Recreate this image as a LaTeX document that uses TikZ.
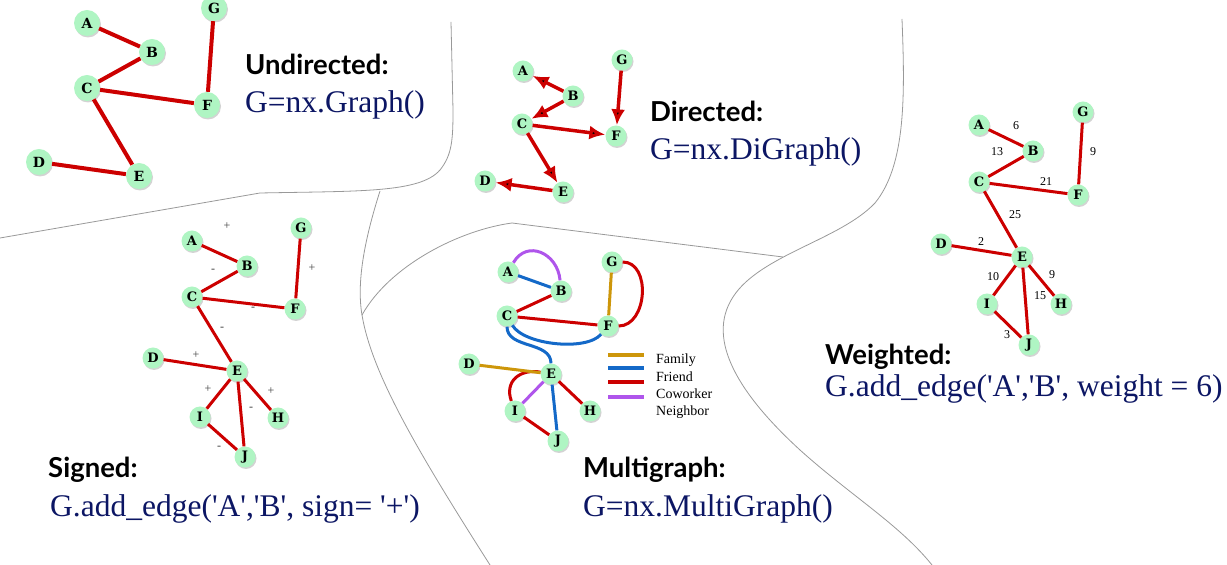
\documentclass[tikz,border=0pt]{standalone}
\usepackage{fontspec}
\setmainfont{Liberation Serif}
\newfontfamily\titlefont{Lato}
\newfontfamily\nodefont{DejaVu Serif}
\usepackage{tikz}
\usetikzlibrary{arrows.meta,shadows}

\definecolor{edgered}{RGB}{204,0,0}
\definecolor{friendblue}{RGB}{20,105,200}
\definecolor{familygold}{RGB}{205,150,10}
\definecolor{nbrpurple}{RGB}{175,85,235}
\definecolor{nodegreen}{RGB}{175,245,195}
\definecolor{codenavy}{RGB}{12,22,100}
\newcommand{\sq}{\textquotesingle}

\begin{document}
\begin{tikzpicture}[x=1pt,y=1pt,every node/.style={inner sep=0pt}]
        \tikzstyle{vertex}=[circle,fill=nodegreen,minimum size=21pt,font=\nodefont\bfseries\fontsize{13}{13}\selectfont,drop shadow={shadow xshift=1pt,shadow yshift=-1.5pt,opacity=.35}]
        \tikzstyle{big vertex}=[vertex,minimum size=26pt,font=\nodefont\bfseries\fontsize{14}{14}\selectfont]
        \tikzstyle{region}=[draw=black!40,line width=0.8pt]
        \tikzstyle{tlabel}=[anchor=base west,font=\titlefont\bfseries\fontsize{27.5}{27.5}\selectfont]
        \tikzstyle{codelabel}=[anchor=base west,text=codenavy,font=\fontsize{31.5}{31.5}\selectfont]
        \tikzstyle{signlabel}=[font=\fontsize{12}{12}\selectfont,text=black!75]
        \tikzstyle{wlabel}=[font=\fontsize{12}{12}\selectfont]
        \tikzstyle{keylabel}=[anchor=west,font=\fontsize{14}{14}\selectfont]
        \tikzstyle{redline}=[draw=edgered,line width=3pt]
        \tikzstyle{fam}=[draw=familygold,line width=3pt]
        \tikzstyle{frd}=[draw=friendblue,line width=3pt]
        \tikzstyle{cow}=[draw=edgered,line width=3pt]
        \tikzstyle{nbr}=[draw=nbrpurple,line width=3pt]
        \useasboundingbox (0,0) rectangle (1227,565);

        % region borders
        \draw[region] (0,327) -- (260,372) .. controls (360,374) and (420,372) .. (440,395) .. controls (452,410) and (453,425) .. (453,455) -- (451,543);
        \draw[region] (380,374) .. controls (366,330) and (356,285) .. (362,250) .. controls (372,190) and (420,110) .. (490,0);
        \draw[region] (362,250) .. controls (390,300) and (460,335) .. (512,342) -- (783,308);
        \draw[region] (902,546) .. controls (905,470) and (906,400) .. (875,362) .. controls (840,325) and (760,310) .. (733,268) .. controls (705,225) and (740,170) .. (800,115) .. controls (850,70) and (900,40) .. (932,0);

        % undirected
        \node[big vertex] (uA) at (87,542) {A};
        \node[big vertex] (uB) at (152,513) {B};
        \node[big vertex] (uC) at (87,477) {C};
        \node[big vertex] (uD) at (39,403) {D};
        \node[big vertex] (uE) at (139,389) {E};
        \node[big vertex] (uF) at (207,460) {F};
        \node[big vertex] (uG) at (214,557) {G};
        \path[redline,line width=4pt]
        (uA) edge (uB) (uB) edge (uC) (uC) edge (uF) (uG) edge (uF) (uC) edge (uE) (uD) edge (uE);
        \node[tlabel] (utitle) at (245,490) {Undirected:};
        \node[codelabel] (ucode) at (245,452) {G=nx.Graph()};

        % directed
        \node[vertex] (dA) at (523,494) {A};
        \node[vertex] (dB) at (573,469) {B};
        \node[vertex] (dC) at (522,441) {C};
        \node[vertex] (dD) at (485,384) {D};
        \node[vertex] (dE) at (563,373) {E};
        \node[vertex] (dF) at (616,429) {F};
        \node[vertex] (dG) at (622,505) {G};
        \path[redline,line width=3.5pt,-{Latex[length=16pt,width=14pt]}]
        (dB) edge (dA) (dB) edge (dC) (dG) edge (dF) (dC) edge (dF) (dC) edge (dE) (dE) edge (dD);
        \node[tlabel] (dtitle) at (650,443) {Directed:};
        \node[codelabel] (dcode) at (650,405) {G=nx.DiGraph()};

        % signed
        \node[vertex] (sA) at (192,324) {A};
        \node[vertex] (sB) at (247,299) {B};
        \node[vertex] (sC) at (192,268) {C};
        \node[vertex] (sD) at (153,207) {D};
        \node[vertex] (sE) at (237,194) {E};
        \node[vertex] (sF) at (295,256) {F};
        \node[vertex] (sG) at (301,337) {G};
        \node[vertex] (sH) at (278,147) {H};
        \node[vertex] (sI) at (200,148) {I};
        \node[vertex] (sJ) at (245,108) {J};
        \path[redline]
        (sA) edge node[signlabel,xshift=7.5pt,yshift=27.5pt] {+} (sB)
        (sB) edge node[signlabel,xshift=-6.5pt,yshift=10.5pt] {-} (sC)
        (sG) edge node[signlabel,xshift=14pt] {+} (sF)
        (sC) edge node[signlabel,xshift=9.5pt,yshift=-6pt] {-} (sF)
        (sC) edge node[signlabel,xshift=7.5pt,yshift=5pt] {-} (sE)
        (sD) edge node[signlabel,xshift=1pt,yshift=9.5pt] {+} (sE)
        (sE) edge node[signlabel,xshift=-10.5pt,yshift=5pt] {+} (sI)
        (sE) edge node[signlabel,xshift=13.5pt,yshift=3.5pt] {+} (sH)
        (sE) edge node[signlabel,xshift=10pt,yshift=5pt] {-} (sJ)
        (sI) edge node[signlabel,xshift=-3.5pt,yshift=-11pt] {-} (sJ);
        \node[tlabel] (stitle) at (48,87) {Signed:};
        \node[codelabel] (scode) at (50,48) {G.add\_edge(\sq A\sq,\sq B\sq, sign= \sq+\sq)};

        % multigraph
        \node[vertex] (mA) at (508,293) {A};
        \node[vertex] (mB) at (561,274) {B};
        \node[vertex] (mC) at (507,249) {C};
        \node[vertex] (mD) at (469,201) {D};
        \node[vertex] (mE) at (551,191) {E};
        \node[vertex] (mF) at (608,239) {F};
        \node[vertex] (mG) at (612,303) {G};
        \node[vertex] (mH) at (590,154) {H};
        \node[vertex] (mI) at (515,154) {I};
        \node[vertex] (mJ) at (558,124) {J};
        \path[nbr] (mA) edge[out=60,in=95,looseness=1.4] (mB) (mE) edge (mI);
        \path[frd] (mA) edge (mB) (mC) edge[out=-60,in=-130,looseness=.65] (mF)
        (mC) edge[out=-90,in=90] (mE) (mE) edge (mJ);
        \path[cow] (mB) edge (mC) (mC) edge (mF) (mG) edge[out=0,in=0,looseness=1.15] (mF)
        (mE) edge[out=170,in=110,looseness=1.3] (mI) (mE) edge (mH) (mI) edge (mJ);
        \path[fam] (mG) edge (mF) (mD) edge (mE);
        \draw[fam,line width=4pt] (608,210) -- (644,210);
        \draw[frd,line width=4pt] (608,197) -- (644,197);
        \draw[cow,line width=4pt] (608,183) -- (644,183);
        \draw[nbr,line width=4pt] (608,168) -- (644,168);
        \node[keylabel] (kfam) at (656,205) {Family};
        \node[keylabel] (kfrd) at (656,188) {Friend};
        \node[keylabel] (kcow) at (656,171) {Coworker};
        \node[keylabel] (knbr) at (656,153) {Neighbor};
        \node[tlabel] (mtitle) at (583,87) {Multigraph:};
        \node[codelabel] (mcode) at (583,48) {G=nx.MultiGraph()};

        % weighted
        \node[vertex] (wA) at (979,440) {A};
        \node[vertex] (wB) at (1033,414) {B};
        \node[vertex] (wC) at (979,383) {C};
        \node[vertex] (wD) at (941,321) {D};
        \node[vertex] (wE) at (1022,308) {E};
        \node[vertex] (wF) at (1078,370) {F};
        \node[vertex] (wG) at (1083,453) {G};
        \node[vertex] (wH) at (1061,261) {H};
        \node[vertex] (wI) at (987,261) {I};
        \node[vertex] (wJ) at (1029,220) {J};
        \path[redline]
        (wA) edge node[wlabel,xshift=10pt,yshift=12pt] {6} (wB)
        (wB) edge node[wlabel,xshift=-9pt,yshift=14.5pt] {13} (wC)
        (wG) edge node[wlabel,xshift=12.5pt,yshift=1.5pt] {9} (wF)
        (wC) edge node[wlabel,xshift=17.5pt,yshift=6.5pt] {21} (wF)
        (wC) edge node[wlabel,xshift=14.5pt,yshift=4.5pt] {25} (wE)
        (wD) edge node[wlabel,xshift=-0.5pt,yshift=8.5pt] {2} (wE)
        (wE) edge node[wlabel,xshift=-11.5pt,yshift=3.5pt] {10} (wI)
        (wE) edge node[wlabel,xshift=10.5pt,yshift=5.5pt] {9} (wH)
        (wE) edge node[wlabel,xshift=14.5pt,yshift=5pt] {15} (wJ)
        (wI) edge node[wlabel,xshift=-1pt,yshift=-10.5pt] {3} (wJ);
        \node[tlabel] (wtitle) at (825,200) {Weighted:};
        \node[codelabel] (wcode) at (825,168) {G.add\_edge(\sq A\sq,\sq B\sq, weight = 6)};
    \end{tikzpicture}
\end{document}
